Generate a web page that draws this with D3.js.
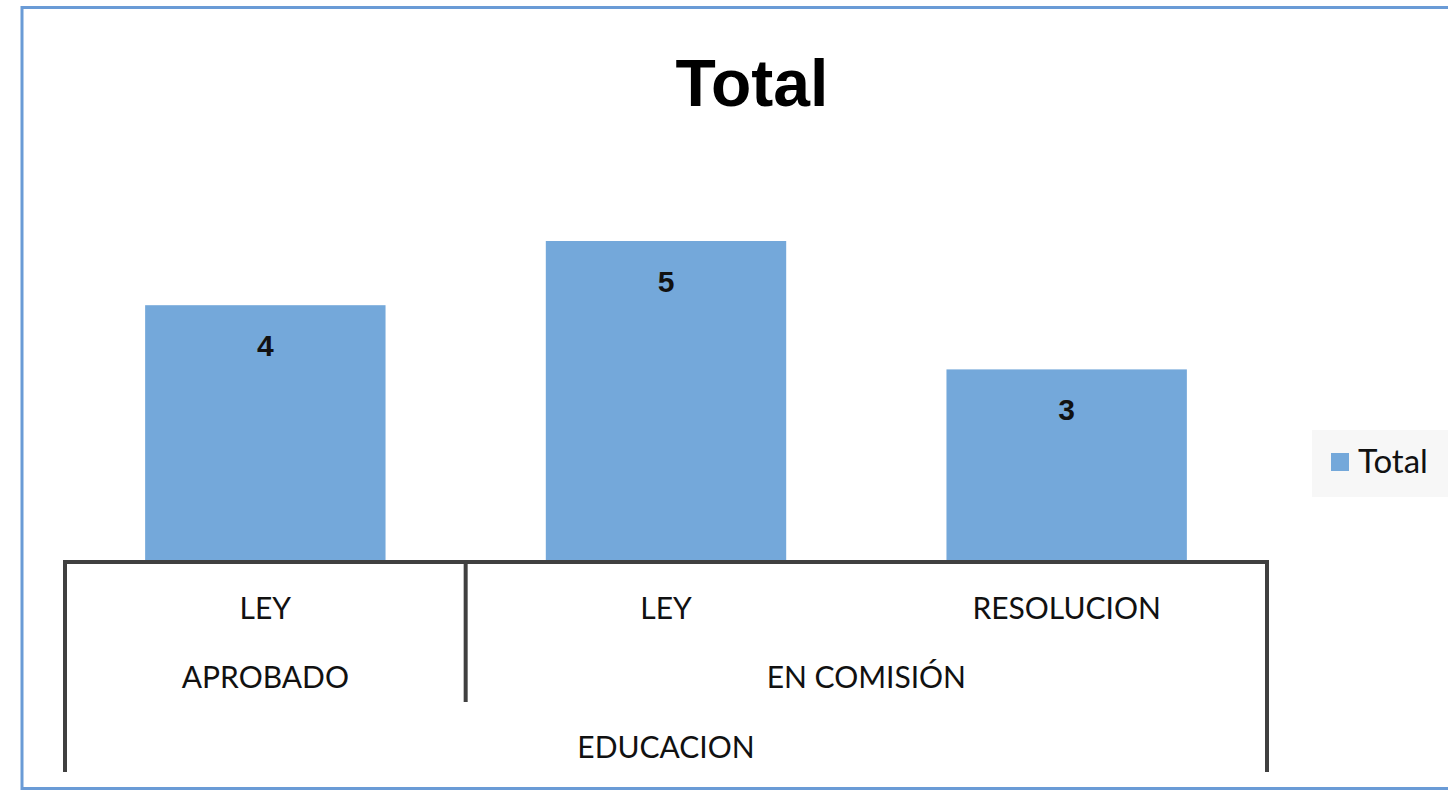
<!DOCTYPE html>
<html>
<head>
<meta charset="utf-8">
<script src="https://cdn.jsdelivr.net/npm/d3@7"></script>
<style>
  body { margin: 0; background: #fff; }
  svg { display: block; }
</style>
</head>
<body>
<div id="app"></div>
<script>
const categories = ['LEY', 'LEY', 'RESOLUCION'];
const values = [4, 5, 3];
const groups = [
  { name: 'APROBADO', span: [0, 0] },
  { name: 'EN COMISIÓN', span: [1, 2] }
];
const topGroup = 'EDUCACION';
const seriesName = 'Total';

const width = 1448;
const height = 791;
const plot = { left: 65, right: 1267, base: 562 };

const svg = d3.select('#app').append('svg')
  .attr('width', width)
  .attr('height', height);

// chart frame
svg.append('rect')
  .attr('x', 22).attr('y', 7.5)
  .attr('width', 1460).attr('height', 781)
  .attr('fill', 'none')
  .attr('stroke', '#6a9bd6')
  .attr('stroke-width', 3);

svg.append('text')
  .attr('x', 752).attr('y', 106)
  .attr('text-anchor', 'middle')
  .style('font-family', 'Liberation Sans, Arial, sans-serif')
  .style('font-weight', 'bold')
  .style('font-size', '66px')
  .text('Total');

const xScale = d3.scaleBand()
  .domain(d3.range(categories.length))
  .range([plot.left, plot.right])
  .paddingInner(0.4)
  .paddingOuter(0.2);

const yScale = d3.scaleLinear()
  .domain([0, 6])
  .range([plot.base, plot.base - 6 * 64.2]);

svg.append('g')
  .selectAll('rect')
  .data(values)
  .enter()
  .append('rect')
  .attr('x', (d, i) => xScale(i))
  .attr('y', d => yScale(d))
  .attr('width', xScale.bandwidth())
  .attr('height', d => yScale(0) - yScale(d))
  .attr('fill', '#74a8da');

svg.append('g')
  .selectAll('text')
  .data(values)
  .enter()
  .append('text')
  .attr('x', (d, i) => xScale(i) + xScale.bandwidth() / 2)
  .attr('y', d => yScale(d) + 51)
  .attr('text-anchor', 'middle')
  .style('font-family', 'Liberation Sans, Arial, sans-serif')
  .style('font-weight', 'bold')
  .style('font-size', '30px')
  .style('fill', '#111')
  .text(d => d);

// multi-level category axis
const step = xScale.step();
const slotStart = i => plot.left + i * step;
const slotCenter = i => plot.left + (i + 0.5) * step;
const axisColor = '#404040';
const labelFont = 'Lato, "Open Sans", sans-serif';

const axis = svg.append('g');

axis.append('line')
  .attr('x1', plot.left - 2).attr('x2', plot.right + 2)
  .attr('y1', plot.base).attr('y2', plot.base)
  .attr('stroke', axisColor).attr('stroke-width', 4);

axis.selectAll('line.outer')
  .data([plot.left, plot.right])
  .enter()
  .append('line')
  .attr('class', 'outer')
  .attr('x1', d => d).attr('x2', d => d)
  .attr('y1', plot.base).attr('y2', 772)
  .attr('stroke', axisColor).attr('stroke-width', 4);

axis.selectAll('line.group')
  .data(groups.slice(1))
  .enter()
  .append('line')
  .attr('class', 'group')
  .attr('x1', d => slotStart(d.span[0])).attr('x2', d => slotStart(d.span[0]))
  .attr('y1', plot.base).attr('y2', 702)
  .attr('stroke', axisColor).attr('stroke-width', 4);

axis.selectAll('text.cat')
  .data(categories)
  .enter()
  .append('text')
  .attr('class', 'cat')
  .attr('x', (d, i) => slotCenter(i))
  .attr('y', 619)
  .attr('text-anchor', 'middle')
  .style('font-family', labelFont)
  .style('font-size', '30px')
  .style('fill', '#111')
  .text(d => d);

axis.selectAll('text.grp')
  .data(groups)
  .enter()
  .append('text')
  .attr('class', 'grp')
  .attr('x', d => (slotStart(d.span[0]) + slotStart(d.span[1] + 1)) / 2)
  .attr('y', 688)
  .attr('text-anchor', 'middle')
  .style('font-family', labelFont)
  .style('font-size', '30px')
  .style('fill', '#111')
  .text(d => d.name);

axis.append('text')
  .attr('x', (plot.left + plot.right) / 2)
  .attr('y', 758)
  .attr('text-anchor', 'middle')
  .style('font-family', labelFont)
  .style('font-size', '30px')
  .style('fill', '#111')
  .text(topGroup);

// legend
const legend = svg.append('g');
legend.append('rect')
  .attr('x', 1312).attr('y', 430)
  .attr('width', 140).attr('height', 67)
  .attr('fill', '#f7f7f7');
legend.append('rect')
  .attr('x', 1331).attr('y', 453)
  .attr('width', 18).attr('height', 18)
  .attr('fill', '#74a8da');
legend.append('text')
  .attr('x', 1358).attr('y', 473)
  .style('font-family', labelFont)
  .style('font-size', '33px')
  .style('fill', '#111')
  .text(seriesName);
</script>
</body>
</html>
